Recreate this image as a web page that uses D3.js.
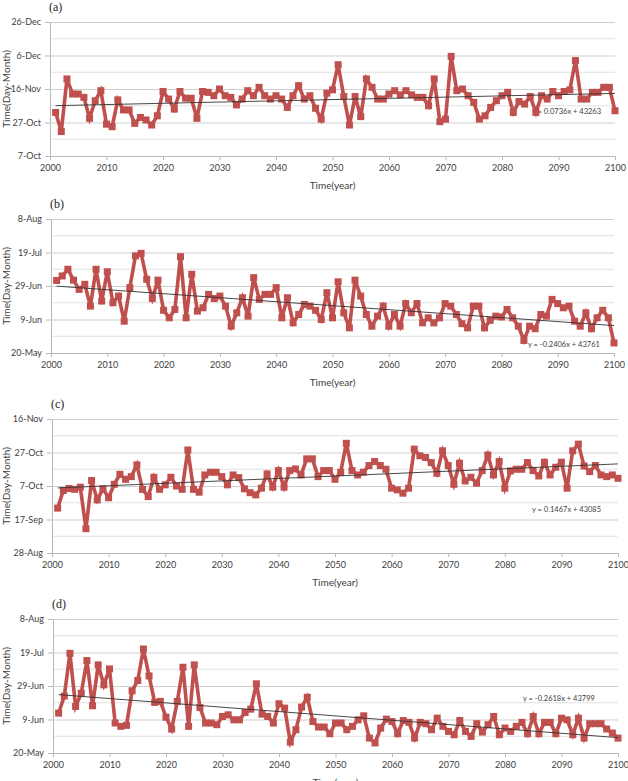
<!DOCTYPE html>
<html>
<head>
<meta charset="utf-8">
<script src="https://cdn.jsdelivr.net/npm/d3@7"></script>
<style>
  body { margin: 0; background: #fff; }
  svg { display: block; }
</style>
</head>
<body>
<svg id="chart" width="628" height="781"></svg>
<script>
// years 2001..2100
const years = d3.range(2001, 2101);

// values = days after the bottom tick of each panel
const seriesA = [26,14.6,46,37,37,35,22.5,33,39,19, 17.5,33.5,27.5,27.5,19.5,23,21.5,18.5,24,38.5,
  34,28,38.5,34.5,34.5,22.5,38.5,38,36,40, 36,35,30.5,34,39,36,41,36,34,36,
  34,29,36,42,34,36,28.5,22,37.5,39.5, 54.5,35.5,18.5,35.5,23.5,46,41,34,34,37,
  39,36.5,39,36.5,35,35,30,46,20.5,22, 59.5,39,40,36,32,22,24,29,33,36,
  38,26,32.5,31,35.5,26,36,34,38.5,36, 38.5,39.5,57,34,34,38,38,41,41,27];

const seriesB = [43.3,46,50,43.5,38,41,28,50,31,48.5, 30,34,19,39,58,59.5,44,32.5,43.5,25.5,
  21,26,57.5,21,47,25,27,35,32.5,34, 28,16,24,33,22,45,32,35,35,39,
  21,33,18,23,29,28,25.5,20,36,21, 42.5,24,15,43.5,34,23,16,22,28,16,
  23,16,29.5,24,29.5,18,21,18,21,29.5, 28,23,17.5,15,28,28,15,19.5,22,21.5,
  26,21,16,7.5,16,14.5,23,22,32,29.5, 27,28,19,16,24,14.5,21,25.5,21,6];

const seriesC = [26.8,37.3,38.5,38,39.3,14.5,43.3,31.7,38.3,33, 41,47,44,45.6,52.6,38,33.7,45.2,38,40.7,
  45.2,40,38,61.5,38,36.3,46.6,48.2,48.2,45.6, 40.7,46.6,45,38.3,36,34.7,38.7,47.2,39.3,49.2,
  39.3,49.2,50.2,46.6,56.2,56.2,45.6,49.2,49.2,44, 48.2,65.5,49.2,46.6,48.2,52.2,54.6,52.2,50,38.7,
  37.7,35.7,38.7,62,58,57,54,47.6,61,52.2, 41,53.6,43,45.2,41.7,49.2,58.5,46.6,54.6,38.7,
  49,50,50,54,49.2,46,54.2,46.6,51.2,54.2, 38.7,61,65,52,48.6,52.2,46.6,45.6,46.6,44.6];

const seriesD = [23.8,34,59.5,27.8,35.7,55.2,28.2,52.6,40.7,50.2, 17.9,15.9,16.5,37.1,43.3,62.1,46,30.2,30.8,21.4,
  14.3,30.8,51.2,15.9,52.6,27.2,17.9,17.9,16.9,21.8, 22.8,19.8,19.8,24.2,26.2,41.3,23.2,21.8,17.9,29.4,
  26.8,6.5,13.9,27.4,33.3,18.8,15.5,15.5,11.5,17.9, 17.9,13.9,15.9,19.8,22.2,8.9,6,14.9,20.2,18.8,
  11.5,19.4,18.3,8.9,18.3,17.5,13.9,20.8,15.9,12.9, 10.9,19.4,12.9,9.9,17.5,12.5,16.9,21.8,10.9,14.9,
  12.9,15.9,18.3,11.5,21.8,11.5,18.3,18.3,11.5,20.8, 19.8,10.9,20.8,8.9,17.5,17.5,17.5,14.3,11.9,8.9];

// first date on each y axis (80-day span, labels every 20 days)
const axisStarts = ["2018-10-07", "2018-05-20", "2018-08-28", "2018-05-20"];
const panelLetters = ["(a)", "(b)", "(c)", "(d)"];
const equations = ["y = 0.0736x + 43263", "y = -0.2406x + 43761", "y = 0.1467x + 43085", "y = -0.2618x + 43799"];
const xTicks = d3.range(2000, 2101, 10);

const panels = [
  {data: seriesA, left: 50, right: 615, top: 22,  eqX: 532, eqY: 114},
  {data: seriesB, left: 51, right: 614, top: 219, eqX: 528, eqY: 347},
  {data: seriesC, left: 52, right: 618, top: 419, eqX: 532, eqY: 512},
  {data: seriesD, left: 53, right: 618, top: 619, eqX: 523, eqY: 701}
];
const ph = 134;
const red = "#c0504d";
const font = "Lato, 'Open Sans', sans-serif";
const parse = d3.timeParse("%Y-%m-%d");
const fmt = d3.timeFormat("%-d-%b");

const svg = d3.select("#chart");

panels.forEach(function(p, k) {
  const start = parse(axisStarts[k]);
  const x = d3.scaleLinear().domain([2000, 2100]).range([p.left, p.right]);
  const y = d3.scaleLinear().domain([0, 80]).range([p.top + ph, p.top]);
  const g = svg.append("g");

  // grid: every 10 days, labels every 20
  const minor = d3.range(10, 80, 20);
  g.selectAll(".minor").data(minor).join("line")
    .attr("x1", p.left).attr("x2", p.right)
    .attr("y1", d => y(d)).attr("y2", d => y(d))
    .attr("stroke", "#e2e2e2").attr("stroke-width", 1);

  const yAxis = d3.axisLeft(y).tickValues(d3.range(0, 81, 20))
    .tickSize(5).tickPadding(4)
    .tickFormat(d => fmt(d3.timeDay.offset(start, d)));
  const ya = g.append("g").attr("transform", `translate(${p.left},0)`).call(yAxis);
  ya.select(".domain").attr("stroke", "#b8b8b8");
  ya.selectAll(".tick line").attr("stroke", "#b8b8b8");
  ya.selectAll(".tick").filter(d => d > 0).append("line")
    .attr("x2", p.right - p.left).attr("stroke", "#cfcfcf");
  ya.selectAll("text").attr("font-family", font).attr("font-size", 9).attr("fill", "#404040");

  const xAxis = d3.axisBottom(x).tickValues(xTicks).tickFormat(d3.format("d"))
    .tickSize(4).tickPadding(5);
  const xa = g.append("g").attr("transform", `translate(0,${p.top + ph})`).call(xAxis);
  xa.select(".domain").attr("stroke", "#b8b8b8");
  xa.selectAll(".tick line").attr("stroke", "#b8b8b8");
  xa.selectAll("text").attr("font-family", font).attr("font-size", 9).attr("fill", "#404040");

  // panel letter
  g.append("text").attr("x", p.left - 1).attr("y", p.top - 11)
    .attr("font-family", "'Liberation Serif', 'Times New Roman', serif")
    .attr("font-size", 12).attr("font-weight", "normal")
    .attr("fill", "#222").text(panelLetters[k]);

  // axis titles
  g.append("text").attr("x", (p.left + p.right) / 2).attr("y", p.top + ph + 33)
    .attr("text-anchor", "middle").attr("font-family", font).attr("font-size", 10)
    .attr("fill", "#404040").text("Time(year)");
  g.append("text")
    .attr("transform", `translate(10,${p.top + ph / 2}) rotate(-90)`)
    .attr("text-anchor", "middle").attr("font-family", font).attr("font-size", 10)
    .attr("fill", "#404040").text("Time(Day-Month)");

  // equation label
  g.append("text").attr("x", p.eqX).attr("y", p.eqY)
    .attr("font-family", font).attr("font-size", 7.5).attr("fill", "#404040")
    .text(equations[k]);

  // series
  const pts = p.data.map((v, i) => [years[i], v]);
  g.append("path").datum(pts)
    .attr("fill", "none").attr("stroke", red).attr("stroke-width", 3.6)
    .attr("stroke-linejoin", "miter")
    .attr("d", d3.line().x(d => x(d[0])).y(d => y(d[1])));
  g.selectAll(".mk").data(pts).join("rect")
    .attr("x", d => x(d[0]) - 3.5).attr("y", d => y(d[1]) - 3.5)
    .attr("width", 7).attr("height", 7).attr("fill", red);

  // linear trend (least squares over year index)
  const xs = pts.map((d, i) => i + 1);
  const mx = d3.mean(xs), my = d3.mean(p.data);
  const slope = d3.sum(xs, (t, i) => (t - mx) * (p.data[i] - my)) / d3.sum(xs, t => (t - mx) * (t - mx));
  const icpt = my - slope * mx;
  g.append("line")
    .attr("x1", x(2001)).attr("y1", y(icpt + slope * 1))
    .attr("x2", x(2100)).attr("y2", y(icpt + slope * 100))
    .attr("stroke", "#333").attr("stroke-width", 0.9);
});
</script>
</body>
</html>
